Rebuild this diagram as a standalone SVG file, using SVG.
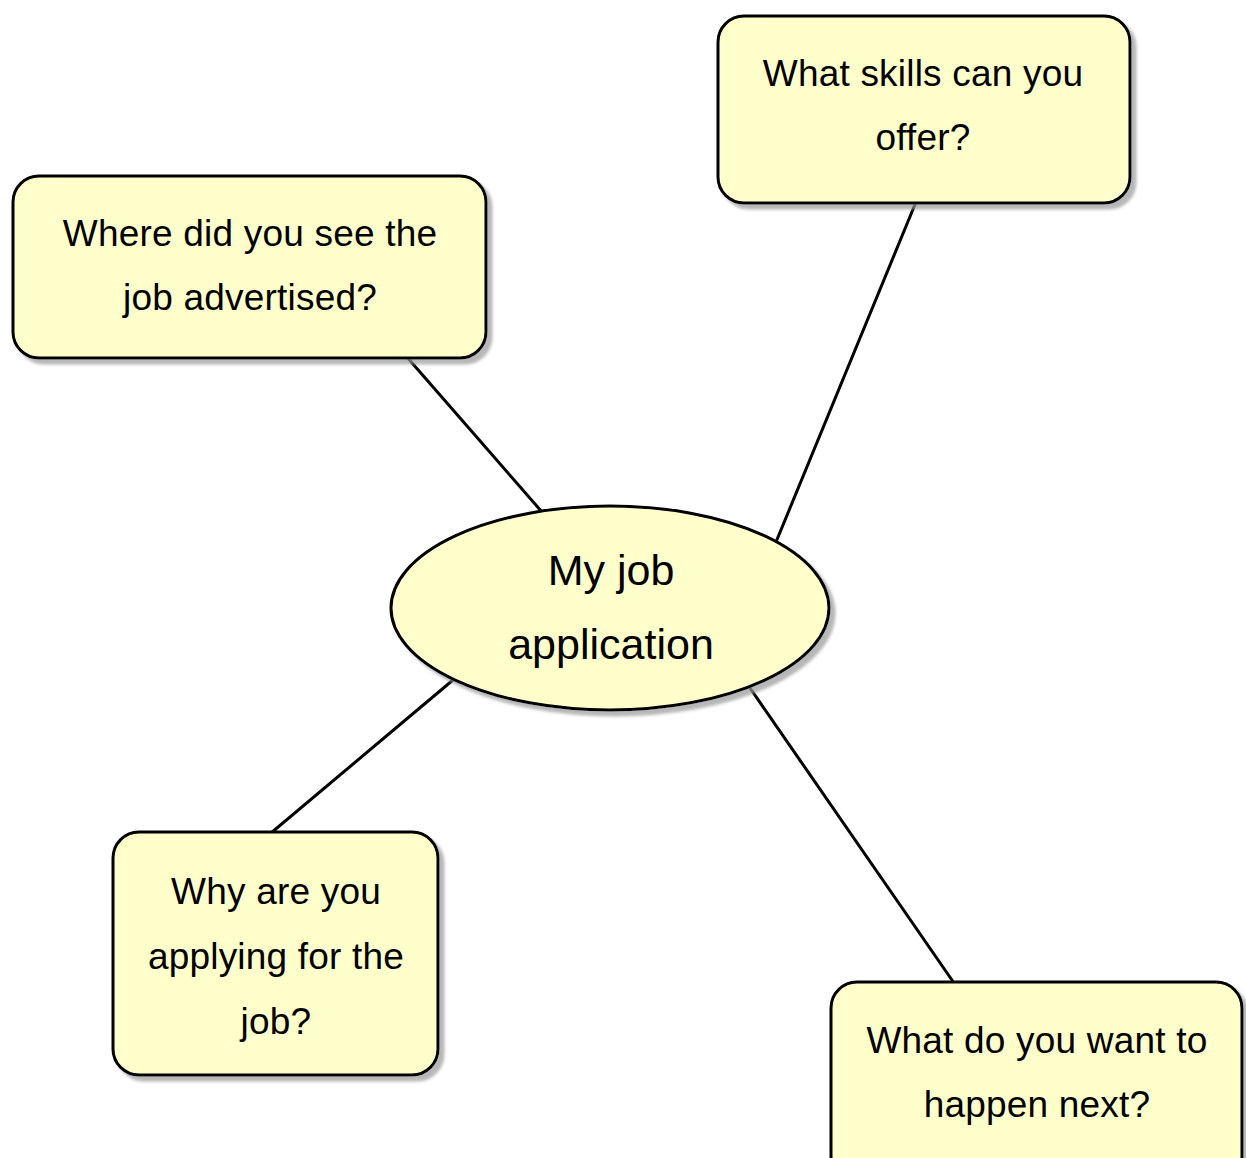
<svg xmlns="http://www.w3.org/2000/svg" width="1246" height="1158" viewBox="0 0 1246 1158">
<style>
.node{fill:#ffffcc;stroke:#000;stroke-width:3;filter:url(#sh)}
.lbl{font-family:"Liberation Sans",Arial,sans-serif;font-size:37px;letter-spacing:0.2px;fill:#000;text-anchor:middle}
.big{font-size:43px;letter-spacing:0}
.conn line{stroke:#000;stroke-width:3}
</style>
<defs>
<filter id="sh" x="-10%" y="-10%" width="125%" height="125%">
<feDropShadow dx="5" dy="5" stdDeviation="1.5" flood-color="#999" flood-opacity="0.7"/>
</filter>
</defs>
<rect width="1246" height="1158" fill="#fff"/>
<g id="connectors" class="conn">
<line x1="406" y1="356" x2="542" y2="512"/>
<line x1="916" y1="202" x2="776" y2="542"/>
<line x1="271" y1="833" x2="453" y2="680"/>
<line x1="750" y1="688" x2="954" y2="983"/>
</g>
<g id="center">
<ellipse class="node" cx="610" cy="608" rx="219" ry="102"/>
<text class="lbl big" x="611" y="585">My job</text>
<text class="lbl big" x="611" y="659">application</text>
</g>
<g id="skills">
<rect class="node" x="718" y="16" width="412" height="187" rx="26"/>
<text class="lbl" x="923" y="86">What skills can you</text>
<text class="lbl" x="923" y="150">offer?</text>
</g>
<g id="where">
<rect class="node" x="13" y="176" width="473" height="182" rx="26"/>
<text class="lbl" x="250" y="246">Where did you see the</text>
<text class="lbl" x="250" y="310">job advertised?</text>
</g>
<g id="why">
<rect class="node" x="113" y="832" width="325" height="243" rx="26"/>
<text class="lbl" x="276" y="904">Why are you</text>
<text class="lbl" x="276" y="969">applying for the</text>
<text class="lbl" x="276" y="1034">job?</text>
</g>
<g id="next">
<rect class="node" x="831" y="982" width="411" height="200" rx="26"/>
<text class="lbl" x="1037" y="1053">What do you want to</text>
<text class="lbl" x="1037" y="1117">happen next?</text>
</g>
</svg>
